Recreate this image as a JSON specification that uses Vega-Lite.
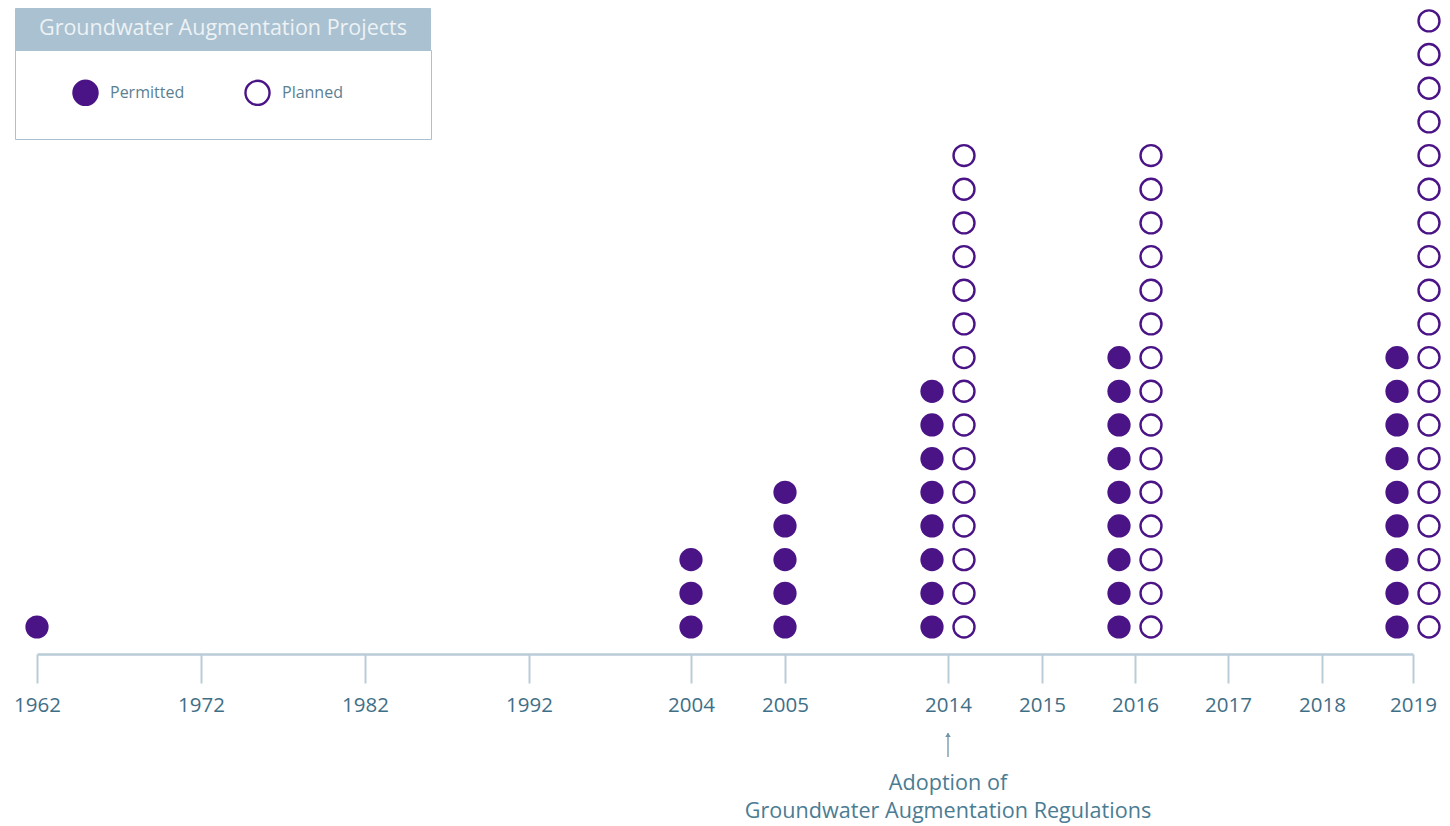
{
  "$schema": "https://vega.github.io/schema/vega-lite/v6.json",
  "description": "Groundwater augmentation projects by year, permitted and planned",
  "width": 1450,
  "height": 654,
  "autosize": {"type": "none"},
  "padding": {"top": 0, "left": 0, "right": 0, "bottom": 172},
  "background": "#ffffff",
  "config": {
    "view": {"stroke": null},
    "font": "Open Sans"
  },
  "encoding": {
    "x": {
      "field": "year",
      "type": "quantitative",
      "scale": {
        "domain": [1962, 1992, 2004, 2005, 2014, 2015, 2016, 2017, 2018, 2019],
        "range": [37, 529, 691, 785, 948, 1042, 1135, 1228, 1322, 1413],
        "nice": false,
        "zero": false
      },
      "axis": {
        "values": [1962, 1972, 1982, 1992, 2004, 2005, 2014, 2015, 2016, 2017, 2018, 2019],
        "format": "d",
        "title": null,
        "grid": false,
        "labelFont": "Open Sans",
        "labelFontSize": 20.5,
        "labelColor": "#3f6f87",
        "labelPadding": 12,
        "tickSize": 29,
        "tickColor": "#b9ccd7",
        "tickWidth": 2,
        "domainColor": "#b9ccd7",
        "domainWidth": 2.5,
        "labelFlush": false,
        "labelOverlap": false
      }
    }
  },
  "layer": [
    {
      "data": {
        "values": [
          {"year": 1962, "status": "Permitted"},
          {"year": 2004, "status": "Permitted"},
          {"year": 2004, "status": "Permitted"},
          {"year": 2004, "status": "Permitted"},
          {"year": 2005, "status": "Permitted"},
          {"year": 2005, "status": "Permitted"},
          {"year": 2005, "status": "Permitted"},
          {"year": 2005, "status": "Permitted"},
          {"year": 2005, "status": "Permitted"},
          {"year": 2014, "status": "Permitted"},
          {"year": 2014, "status": "Permitted"},
          {"year": 2014, "status": "Permitted"},
          {"year": 2014, "status": "Permitted"},
          {"year": 2014, "status": "Permitted"},
          {"year": 2014, "status": "Permitted"},
          {"year": 2014, "status": "Permitted"},
          {"year": 2014, "status": "Permitted"},
          {"year": 2014, "status": "Planned"},
          {"year": 2014, "status": "Planned"},
          {"year": 2014, "status": "Planned"},
          {"year": 2014, "status": "Planned"},
          {"year": 2014, "status": "Planned"},
          {"year": 2014, "status": "Planned"},
          {"year": 2014, "status": "Planned"},
          {"year": 2014, "status": "Planned"},
          {"year": 2014, "status": "Planned"},
          {"year": 2014, "status": "Planned"},
          {"year": 2014, "status": "Planned"},
          {"year": 2014, "status": "Planned"},
          {"year": 2014, "status": "Planned"},
          {"year": 2014, "status": "Planned"},
          {"year": 2014, "status": "Planned"},
          {"year": 2016, "status": "Permitted"},
          {"year": 2016, "status": "Permitted"},
          {"year": 2016, "status": "Permitted"},
          {"year": 2016, "status": "Permitted"},
          {"year": 2016, "status": "Permitted"},
          {"year": 2016, "status": "Permitted"},
          {"year": 2016, "status": "Permitted"},
          {"year": 2016, "status": "Permitted"},
          {"year": 2016, "status": "Permitted"},
          {"year": 2016, "status": "Planned"},
          {"year": 2016, "status": "Planned"},
          {"year": 2016, "status": "Planned"},
          {"year": 2016, "status": "Planned"},
          {"year": 2016, "status": "Planned"},
          {"year": 2016, "status": "Planned"},
          {"year": 2016, "status": "Planned"},
          {"year": 2016, "status": "Planned"},
          {"year": 2016, "status": "Planned"},
          {"year": 2016, "status": "Planned"},
          {"year": 2016, "status": "Planned"},
          {"year": 2016, "status": "Planned"},
          {"year": 2016, "status": "Planned"},
          {"year": 2016, "status": "Planned"},
          {"year": 2016, "status": "Planned"},
          {"year": 2019, "status": "Permitted"},
          {"year": 2019, "status": "Permitted"},
          {"year": 2019, "status": "Permitted"},
          {"year": 2019, "status": "Permitted"},
          {"year": 2019, "status": "Permitted"},
          {"year": 2019, "status": "Permitted"},
          {"year": 2019, "status": "Permitted"},
          {"year": 2019, "status": "Permitted"},
          {"year": 2019, "status": "Permitted"},
          {"year": 2019, "status": "Planned"},
          {"year": 2019, "status": "Planned"},
          {"year": 2019, "status": "Planned"},
          {"year": 2019, "status": "Planned"},
          {"year": 2019, "status": "Planned"},
          {"year": 2019, "status": "Planned"},
          {"year": 2019, "status": "Planned"},
          {"year": 2019, "status": "Planned"},
          {"year": 2019, "status": "Planned"},
          {"year": 2019, "status": "Planned"},
          {"year": 2019, "status": "Planned"},
          {"year": 2019, "status": "Planned"},
          {"year": 2019, "status": "Planned"},
          {"year": 2019, "status": "Planned"},
          {"year": 2019, "status": "Planned"},
          {"year": 2019, "status": "Planned"},
          {"year": 2019, "status": "Planned"},
          {"year": 2019, "status": "Planned"},
          {"year": 2019, "status": "Planned"}
        ]
      },
      "transform": [
        {"joinaggregate": [{"op": "distinct", "field": "status", "as": "kinds"}], "groupby": ["year"]},
        {"window": [{"op": "row_number", "as": "n"}], "groupby": ["year", "status"]}
      ],
      "encoding": {
        "y": {
          "field": "n",
          "type": "quantitative",
          "scale": {"domain": [0.198, 19.62], "nice": false, "zero": false},
          "axis": null
        },
        "fill": {
          "field": "status",
          "type": "nominal",
          "scale": {"domain": ["Permitted", "Planned"], "range": ["#4a1486", "#ffffff"]},
          "legend": {
            "title": " ",
            "titleOrient": "right",
            "titlePadding": 59,
            "titleFontSize": 10,
            "orient": "none",
            "legendX": 15,
            "legendY": 50,
            "direction": "horizontal",
            "columns": 2,
            "padding": 29,
            "fillColor": "#ffffff",
            "strokeColor": "#a9c1d0",
            "symbolType": "circle",
            "symbolSize": 580,
            "symbolStrokeColor": "#4a1486",
            "symbolStrokeWidth": 2.4,
            "symbolOpacity": 1,
            "symbolOffset": 28,
            "labelOffset": 11,
            "columnPadding": 31,
            "labelFont": "Open Sans",
            "labelFontSize": 16,
            "labelColor": "#5b7f92"
          }
        }
      },
      "layer": [
        {
          "transform": [{"filter": "datum.kinds == 1"}],
          "mark": {"type": "point", "filled": true, "size": 540, "strokeWidth": 0, "opacity": 1},
          "encoding": {
            "shape": {
              "datum": "header",
              "scale": {"range": ["circle"]},
              "legend": {
                "title": "Groundwater Augmentation Projects",
                "orient": "none",
                "legendX": 15,
                "legendY": 8,
                "padding": 10,
                "fillColor": "#a9c1d0",
                "strokeColor": "#a9c1d0",
                "titleFont": "Open Sans",
                "titleFontSize": 21.5,
                "titleFontWeight": "normal",
                "titleColor": "#edf2f5",
                "titleAnchor": "middle",
                "titleLimit": 600,
                "titlePadding": 0,
                "symbolSize": 0,
                "symbolOpacity": 0,
                "symbolStrokeWidth": 0,
                "labelExpr": "''",
                "labelFontSize": 0,
                "labelOffset": 385,
                "direction": "horizontal"
              }
            }
          }
        },
        {
          "transform": [{"filter": "datum.kinds == 2 && datum.status == 'Permitted'"}],
          "mark": {"type": "point", "filled": true, "size": 540, "strokeWidth": 0, "opacity": 1, "xOffset": -16}
        },
        {
          "transform": [{"filter": "datum.kinds == 2 && datum.status == 'Planned'"}],
          "mark": {"type": "point", "filled": true, "size": 440, "stroke": "#4a1486", "strokeWidth": 2.4, "opacity": 1, "xOffset": 16}
        }
      ]
    },
    {
      "data": {
        "values": [
          {"year": 2014, "note": "Adoption of\nGroundwater Augmentation Regulations"}
        ]
      },
      "layer": [
        {
          "mark": {"type": "rule", "color": "#6f95aa", "strokeWidth": 1.3},
          "encoding": {
            "y": {"datum": -2.16, "type": "quantitative", "scale": {"domain": [0.198, 19.62], "nice": false, "zero": false}},
            "y2": {"datum": -2.861}
          }
        },
        {
          "mark": {"type": "point", "shape": "triangle-up", "filled": true, "size": 30, "color": "#6f95aa", "opacity": 1},
          "encoding": {
            "y": {"datum": -2.2, "type": "quantitative", "scale": {"domain": [0.198, 19.62], "nice": false, "zero": false}}
          }
        },
        {
          "mark": {"type": "text", "align": "center", "baseline": "alphabetic", "lineBreak": "\n", "lineHeight": 28, "fontSize": 21.6, "font": "Open Sans", "color": "#4b7c93"},
          "encoding": {
            "y": {"datum": -3.841, "type": "quantitative", "scale": {"domain": [0.198, 19.62], "nice": false, "zero": false}},
            "text": {"field": "note"}
          }
        }
      ]
    }
  ]
}
